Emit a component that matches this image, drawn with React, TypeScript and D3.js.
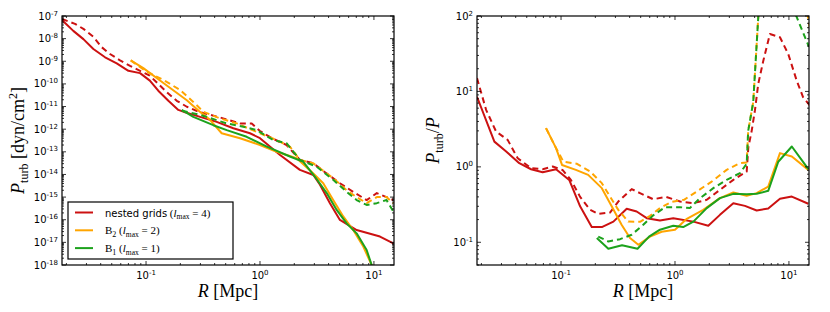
import { line, scaleLog, ScaleLogarithmic } from "d3";

const RED = "#cc1111";
const ORANGE = "#ffa500";
const GREEN = "#1ca21c";

// x range of both panels, in Mpc
const rDomain: [number, number] = [0.0183, 15];

// left panel: P_turb [dyn/cm^2]
const pturbDomain: [number, number] = [1e-18, 1e-7];

const pNestedR = [0.0183, 0.023, 0.0282, 0.0345, 0.0437, 0.0553, 0.07, 0.0886, 0.108, 0.128, 0.157, 0.192, 0.22, 0.298, 0.417, 0.583, 0.817, 1.0, 1.5, 2.24, 2.94, 3.36, 4.11, 5.03, 7.05, 11.3, 14.8];
const pNested = [6.6e-8, 2.2e-8, 9.5e-9, 3.5e-9, 1.5e-9, 8.1e-10, 3.8e-10, 3.0e-10, 1.4e-10, 5.0e-11, 1.8e-11, 7.1e-12, 5.6e-12, 3.5e-12, 2.1e-12, 1.1e-12, 6.6e-13, 4.0e-13, 7.2e-14, 1.6e-14, 9.5e-15, 3.5e-15, 5.4e-16, 9.8e-17, 3.5e-17, 1.8e-17, 9.1e-18];

const pNestedDashR = [0.0183, 0.0238, 0.0282, 0.0345, 0.0408, 0.0483, 0.0591, 0.0724, 0.0886, 0.108, 0.128, 0.152, 0.186, 0.228, 0.298, 0.446, 0.668, 0.846, 1.0, 1.31, 1.71, 2.24, 2.94, 3.85, 5.03, 6.58, 8.63, 10.6, 12.9, 14.8];
const pNestedDash = [7.4e-8, 4.5e-8, 2.7e-8, 1.2e-8, 4.2e-9, 2.1e-9, 1.1e-9, 6.3e-10, 3.8e-10, 2.3e-10, 1.0e-10, 4.3e-11, 1.8e-11, 9.8e-12, 5.6e-12, 3.3e-12, 1.8e-12, 1.8e-12, 8.3e-13, 3.7e-13, 2.0e-13, 4.4e-14, 3.1e-14, 1.1e-14, 4.1e-15, 1.7e-15, 7.4e-16, 1.5e-15, 1.0e-15, 7.4e-16];

const pB2R = [0.0734, 0.0947, 0.142, 0.228, 0.298, 0.364, 0.461, 0.668, 1.0, 1.4, 2.1, 2.94, 3.59, 4.39, 5.38, 6.58, 8.06, 9.55, 10.2];
const pB2 = [1.1e-9, 5.0e-10, 1.1e-10, 1.9e-11, 5.8e-12, 2.6e-12, 6.6e-13, 4.0e-13, 2.0e-13, 1.0e-13, 5.2e-14, 1.1e-14, 4.1e-15, 7.4e-16, 1.4e-16, 3.5e-17, 6.5e-18, 1.0e-18, 3.6e-19];

const pB2DashR = [0.0734, 0.101, 0.142, 0.199, 0.26, 0.318, 0.446, 0.625, 1.0, 1.4, 1.83, 2.24, 2.94, 4.39, 5.76, 7.05, 8.63, 10.6, 12.9, 14.8];
const pB2Dash = [1.1e-9, 3.5e-10, 1.5e-10, 5.4e-11, 1.6e-11, 5.9e-12, 3.0e-12, 1.8e-12, 6.6e-13, 3.3e-13, 1.7e-13, 4.4e-14, 3.1e-14, 6.8e-15, 2.0e-15, 1.0e-15, 5.4e-16, 1.0e-15, 1.0e-15, 5.4e-16];

const pB1R = [0.206, 0.26, 0.389, 0.511, 0.764, 1.15, 1.83, 2.4, 3.04, 3.85, 4.71, 5.76, 7.05, 8.63, 9.55, 10.0];
const pB1 = [7.1e-12, 3.5e-12, 1.5e-12, 9.1e-13, 4.6e-13, 1.7e-13, 6.2e-14, 3.6e-14, 7.9e-15, 1.5e-15, 2.7e-16, 6.9e-17, 2.5e-17, 4.6e-18, 1.0e-18, 3.0e-19];

const pB1DashR = [0.206, 0.298, 0.511, 0.764, 0.935, 1.31, 1.71, 2.24, 3.14, 4.39, 5.76, 7.05, 8.63, 10.6, 12.9, 14.8];
const pB1Dash = [6.5e-12, 4.3e-12, 1.8e-12, 1.2e-12, 9.1e-13, 3.3e-13, 2.4e-13, 4.4e-14, 2.2e-14, 5.8e-15, 1.7e-15, 7.4e-16, 4.5e-16, 5.4e-16, 7.4e-16, 2.3e-16];

// right panel: P_turb / P
const ratioDomain: [number, number] = [0.05, 100];

const rNestedR = [0.0183, 0.026, 0.033, 0.043, 0.0546, 0.069, 0.0904, 0.118, 0.147, 0.186, 0.228, 0.288, 0.377, 0.461, 0.565, 0.738, 0.966, 1.45, 1.96, 2.48, 3.25, 4.11, 5.21, 6.58, 8.34, 10.6, 14.8];
const rNested = [8.5, 2.16, 1.6, 1.12, 0.93, 0.85, 0.93, 0.67, 0.3, 0.159, 0.159, 0.188, 0.278, 0.256, 0.209, 0.194, 0.209, 0.188, 0.166, 0.231, 0.33, 0.304, 0.264, 0.28, 0.377, 0.404, 0.324];

const rNestedDashR = [0.0183, 0.022, 0.0269, 0.034, 0.0417, 0.0546, 0.069, 0.0845, 0.103, 0.122, 0.147, 0.18, 0.212, 0.269, 0.318, 0.417, 0.493, 0.645, 0.834, 1.11, 1.45, 1.9, 2.48, 3.25, 4.26, 4.4, 4.71, 5.03, 5.38, 5.96, 6.81, 8.34, 9.86, 11.7, 13.3, 15.3];
const rNestedDash = [15, 5.7, 2.94, 2.28, 1.3, 0.96, 0.93, 1.01, 0.91, 0.67, 0.4, 0.27, 0.238, 0.248, 0.347, 0.507, 0.449, 0.372, 0.401, 0.347, 0.33, 0.366, 0.496, 0.673, 0.867, 1.8, 3.0, 5.6, 12.6, 25.6, 57.8, 52.3, 31.4, 13.9, 8.4, 6.5];

const rB2R = [0.0738, 0.0904, 0.102, 0.135, 0.173, 0.228, 0.279, 0.34, 0.403, 0.477, 0.604, 0.764, 1.0, 1.27, 1.77, 2.48, 3.25, 4.26, 5.21, 6.58, 8.34, 10.6, 14.8];
const rB2 = [3.26, 1.77, 1.06, 0.912, 0.783, 0.522, 0.298, 0.171, 0.114, 0.0927, 0.119, 0.138, 0.147, 0.205, 0.269, 0.385, 0.457, 0.413, 0.449, 0.548, 1.52, 1.37, 0.912];

const rB2DashR = [0.0738, 0.0904, 0.105, 0.137, 0.18, 0.228, 0.269, 0.318, 0.389, 0.493, 0.604, 0.738, 0.935, 1.2, 1.55, 2.1, 2.84, 3.72, 4.26, 4.39, 4.86, 5.38, 5.6, 9, 13, 15.5];
const rB2Dash = [3.26, 1.77, 1.17, 1.1, 0.867, 0.608, 0.404, 0.269, 0.188, 0.187, 0.224, 0.284, 0.344, 0.366, 0.471, 0.638, 0.912, 1.12, 1.14, 3.0, 7.2, 96, 200, 1000, 300, 60];

const rB1R = [0.206, 0.26, 0.343, 0.469, 0.592, 0.738, 0.966, 1.18, 1.45, 1.9, 2.48, 3.25, 4.26, 5.21, 6.58, 8.06, 10.6, 14.8];
const rB1 = [0.114, 0.082, 0.0912, 0.082, 0.119, 0.147, 0.166, 0.159, 0.188, 0.284, 0.385, 0.439, 0.432, 0.439, 0.481, 1.17, 1.86, 0.933];

const rB1DashR = [0.212, 0.26, 0.33, 0.417, 0.527, 0.645, 0.817, 1.11, 1.35, 1.66, 2.17, 2.84, 3.72, 4.26, 4.39, 4.86, 5.38, 5.6, 8, 10.8, 15];
const rB1Dash = [0.119, 0.1025, 0.11, 0.126, 0.171, 0.228, 0.291, 0.292, 0.284, 0.385, 0.522, 0.673, 0.826, 1.1, 3.0, 7.2, 96, 200, 1000, 130, 39];

interface Series {
    r: number[];
    v: number[];
    color: string;
    dashed?: boolean;
}

const leftSeries: Series[] = [
    { r: pNestedR, v: pNested, color: RED },
    { r: pNestedDashR, v: pNestedDash, color: RED, dashed: true },
    { r: pB2R, v: pB2, color: ORANGE },
    { r: pB2DashR, v: pB2Dash, color: ORANGE, dashed: true },
    { r: pB1R, v: pB1, color: GREEN },
    { r: pB1DashR, v: pB1Dash, color: GREEN, dashed: true },
];

const rightSeries: Series[] = [
    { r: rNestedR, v: rNested, color: RED },
    { r: rNestedDashR, v: rNestedDash, color: RED, dashed: true },
    { r: rB2R, v: rB2, color: ORANGE },
    { r: rB2DashR, v: rB2Dash, color: ORANGE, dashed: true },
    { r: rB1R, v: rB1, color: GREEN },
    { r: rB1DashR, v: rB1Dash, color: GREEN, dashed: true },
];

const SANS = "'DejaVu Sans', sans-serif";
const SERIF = "'Liberation Serif', 'DejaVu Serif', serif";

function logTicks(domain: number[]) {
    const lo = Math.min(domain[0], domain[1]);
    const hi = Math.max(domain[0], domain[1]);
    const out: { v: number; major: boolean; exp: number }[] = [];
    for (let k = Math.floor(Math.log10(lo)); k <= Math.ceil(Math.log10(hi)); k++) {
        for (let m = 1; m <= 9; m++) {
            const v = m * Math.pow(10, k);
            if (v >= lo * 0.9999 && v <= hi * 1.0001) out.push({ v, major: m === 1, exp: k });
        }
    }
    return out;
}

const Pow10 = ({ exp }: { exp: number }) => (
    <>
        10<tspan fontSize={7} dy={-4}>{exp}</tspan>
    </>
);

interface PanelProps {
    id: string;
    left: number;
    top: number;
    width: number;
    height: number;
    yDomain: [number, number];
    series: Series[];
    yLabel: React.ReactNode;
    children?: React.ReactNode;
}

const Panel = ({ id, left, top, width, height, yDomain, series, yLabel, children }: PanelProps) => {
    const x: ScaleLogarithmic<number, number> = scaleLog().domain(rDomain).range([left, left + width]);
    const y: ScaleLogarithmic<number, number> = scaleLog().domain(yDomain).range([top + height, top]);
    const xt = logTicks(x.domain());
    const yt = logTicks(y.domain());
    const bottom = top + height;
    const right = left + width;

    const path = (s: Series) =>
        line<number>()
            .x((_, i) => x(s.r[i]))
            .y((d) => y(d))(s.v) ?? "";

    return (
        <g>
            <defs>
                <clipPath id={id}>
                    <rect x={left} y={top} width={width} height={height} />
                </clipPath>
            </defs>
            <g clipPath={`url(#${id})`}>
                {series.map((s, i) => (
                    <path
                        key={i}
                        d={path(s)}
                        fill="none"
                        stroke={s.color}
                        strokeWidth={2}
                        strokeDasharray={s.dashed ? "6,4" : undefined}
                        strokeLinejoin="round"
                    />
                ))}
            </g>
            <g stroke="#000" strokeWidth={0.8}>
                {xt.map((t, i) => {
                    const px = x(t.v);
                    const len = t.major ? 4 : 2;
                    return (
                        <g key={`x${i}`}>
                            <line x1={px} x2={px} y1={bottom} y2={bottom - len} />
                            <line x1={px} x2={px} y1={top} y2={top + len} />
                        </g>
                    );
                })}
                {yt.map((t, i) => {
                    const py = y(t.v);
                    const len = t.major ? 4 : 2;
                    return (
                        <g key={`y${i}`}>
                            <line x1={left} x2={left + len} y1={py} y2={py} />
                            <line x1={right} x2={right - len} y1={py} y2={py} />
                        </g>
                    );
                })}
            </g>
            <rect x={left} y={top} width={width} height={height} fill="none" stroke="#000" strokeWidth={1.2} />
            <g fontFamily={SANS} fontSize={10} fill="#000">
                {xt.filter((t) => t.major).map((t, i) => (
                    <text key={`xl${i}`} x={x(t.v)} y={bottom + 14} textAnchor="middle">
                        <Pow10 exp={t.exp} />
                    </text>
                ))}
                {yt.filter((t) => t.major).map((t, i) => (
                    <text key={`yl${i}`} x={left - 4} y={y(t.v) + 3.5} textAnchor="end">
                        <Pow10 exp={t.exp} />
                    </text>
                ))}
            </g>
            <text x={left + width / 2} y={bottom + 32} fontFamily={SERIF} fontSize={18} textAnchor="middle">
                <tspan fontStyle="italic">R</tspan> [Mpc]
            </text>
            <text
                transform={`translate(${left - 38}, ${top + height / 2}) rotate(-90)`}
                fontFamily={SERIF}
                fontSize={18}
                textAnchor="middle"
            >
                {yLabel}
            </text>
            {children}
        </g>
    );
};

const legendRows = [
    { color: RED, label: "nested", lmax: "4" },
    { color: ORANGE, label: "B", sub: "2", lmax: "2" },
    { color: GREEN, label: "B", sub: "1", lmax: "1" },
];

const Legend = ({ x, y }: { x: number; y: number }) => (
    <g>
        <rect x={x} y={y} width={165} height={57} fill="#fff" stroke="#000" strokeWidth={1.2} />
        {legendRows.map((row, i) => {
            const cy = y + 10.5 + i * 17.8;
            return (
                <g key={row.color}>
                    <line x1={x + 7} x2={x + 25} y1={cy} y2={cy} stroke={row.color} strokeWidth={2} />
                    <text x={x + 37} y={cy + 4} fontSize={11} fontFamily={SERIF}>
                        {row.sub ? (
                            <>
                                B<tspan fontSize={8} dy={2.5}>{row.sub}</tspan>
                                <tspan dy={-2.5}> (</tspan>
                            </>
                        ) : (
                            <>
                                <tspan fontFamily={SANS} fontSize={10}>nested grids</tspan>
                                <tspan> (</tspan>
                            </>
                        )}
                        <tspan fontStyle="italic">l</tspan>
                        <tspan fontSize={7.5} dy={2.5}>max</tspan>
                        <tspan dy={-2.5}> = {row.lmax})</tspan>
                    </text>
                </g>
            );
        })}
    </g>
);

export default function App() {
    return (
        <svg
            width={830}
            height={312}
            style={{ position: "absolute", left: 0, top: 0, background: "#fff" }}
        >
            <Panel
                id="clipL"
                left={62}
                top={16}
                width={332}
                height={249}
                yDomain={pturbDomain}
                series={leftSeries}
                yLabel={
                    <>
                        <tspan fontStyle="italic">P</tspan>
                        <tspan fontSize={12} dy={4}>turb</tspan>
                        <tspan dy={-4}> [dyn/cm</tspan>
                        <tspan fontSize={12} dy={-7}>2</tspan>
                        <tspan dy={7}>]</tspan>
                    </>
                }
            >
                <Legend x={68} y={202} />
            </Panel>
            <Panel
                id="clipR"
                left={477}
                top={16}
                width={332}
                height={249}
                yDomain={ratioDomain}
                series={rightSeries}
                yLabel={
                    <>
                        <tspan fontStyle="italic">P</tspan>
                        <tspan fontSize={12} dy={4}>turb</tspan>
                        <tspan dy={-4}>/</tspan>
                        <tspan fontStyle="italic">P</tspan>
                    </>
                }
            />
        </svg>
    );
}
